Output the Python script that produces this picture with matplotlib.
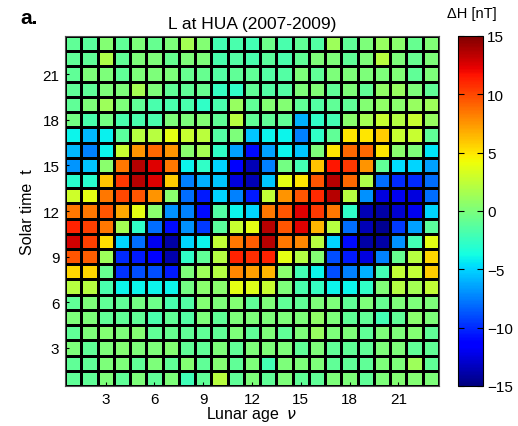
#!/usr/bin/env python
"""Lunar (L) variation of dH at HUA, solar time vs lunar age."""

import numpy as np
import matplotlib
matplotlib.use('Agg')
import matplotlib.pyplot as plt

matplotlib.rc('font', family=['Liberation Sans', 'DejaVu Sans'])

# lunar age (columns) and solar time (rows), 1..23
lunar_age = list(range(1, 24))
solar_time = list(range(1, 24))

# dH [nT], rows listed from t=23 (top) down to t=1 (bottom)
dH_rows = [
  [-1, -1.2, 0.3, -1, 0, -0.8, 0, 1.5, 0.3, -2, -1.8, -2, -0.5, -1.8, -1, -1.5, 1.2, -1, 0, 1, 0.5, -0.8, 0.2],
  [-1, -1, 1.8, -1, 0, 0, -0.8, 0, 0, -1.8, -1.5, -1.8, -1.2, -1.8, -1, 0, 0, -1, 0, 2.2, 0, -0.8, 0],
  [-1, 0, 0, -1, 0, 0, 0, -0.8, -0.8, -1.5, -1, -1, -1.5, -1.5, 0, -1, 0, 0, 0, 0, 0.2, -1, 0],
  [-1, -1, 0, 0, 1.5, 0, -1, -1, -0.8, -2.5, -2.8, -1, -1.5, -1.5, 0, 0.2, -1, 0, -1, 0.8, 1, 0, -1],
  [-1, 0, 1.2, 0, -1, -1.8, -1.8, -1.8, -2.8, -1.8, 1, -1, 0.3, 0.3, -1, -1.5, -1, -1, 0.3, 0.8, 0.5, 1, 1.2],
  [-0.3, -1.8, -0.3, -1.8, -1.8, -1.8, 0, 0, 0.3, -1, 2.2, -1, -1, -1, -6, -2.8, -2, 0.5, 1.5, 2.8, 2, 2.8, 1],
  [-4, -5.8, -4.2, -1.2, 2.2, 2.2, 3.8, 2.8, 2.3, -1.5, 0, -5.5, -4, -4, -7.5, -2.8, -1, 5, 5, 5.8, 2.8, 2.8, -1],
  [-5.8, -7.5, -4, 2.8, 7.5, 9, 7.5, 0.5, 1.5, -2.8, -6.5, -11, -6.5, -4, -5.5, 0, 5, 9, 9, 5, 0.5, 0, -4.5],
  [-6.8, -5.5, 0.5, 8.5, 13.5, 12.5, 8.5, -4, -2.8, -5, -11.5, -13.5, -7.5, -0.3, -2, 6, 11.5, 10.5, 7.5, -1, -4.8, -5, -6.5],
  [-3, -3, 6, 10.5, 13.5, 12.5, 5.8, -7.5, -6, -5.5, -12.5, -13.5, -5.5, 3.8, 5, 9.5, 13.5, 9, 1.8, -8, -10, -10, -8],
  [3, 3.8, 8.5, 10, 9.5, 7.5, 0.5, -8, -10.5, -5, -7.5, -10.5, 2.5, 7.5, 9.5, 11, 13.5, 2.2, -7, -12.5, -12, -12.5, -8],
  [8.5, 8.5, 9.5, 7, 3.8, 0.5, -7, -7.5, -11, -1.5, -4, -5, 8.5, 9.5, 12.5, 10.5, 8.5, -2.8, -13.5, -14, -13, -12, -5],
  [11.2, 10.3, 8.5, 1.5, -2.8, -8, -11, -7, -9.5, -1.2, 2.8, 3.8, 13.5, 9.5, 12.5, 6.5, 2.2, -8, -13.5, -14.5, -9.5, -6.5, -1.2],
  [12.8, 10.3, 5.2, -5, -8, -12, -14, -5, -4, 2.5, 8.5, 9.3, 13.5, 8.5, 8, 2.2, -5, -11, -14, -14, -7, -2, 3.8],
  [9.5, 9.3, 1.2, -10, -10.5, -11.5, -13.8, -2.8, -1, 2, 11.2, 10.8, 11.2, 3.8, 2, 0.3, -9, -10.5, -12.5, -7.5, -0.8, 2.2, 5.5],
  [5.5, 5.5, -0.8, -9.8, -9, -9, -10.5, 0, 1.2, 2, 8, 7.2, 6.5, 0.5, -2, -4, -9, -7.5, -6, -2, 2.5, 2.5, 5.8],
  [2.2, 2.2, -1.8, -4, -4, -4, -4, -0.3, 0.5, 0.5, 3.8, 3.6, 2.8, 0, -1.8, -2.5, -4, -4, -2.8, 0.2, 2, 1.5, 2.5],
  [-1, 0, -1, -1, -0.3, -0.5, -1.8, -1.5, 0.3, 0, 0.3, -1, 0, -1, -1, 0, 0, -1, 0, -0.8, 0, 0, 0],
  [0, 0, -1, -1, -1, -1.8, -1, -1.5, 0, -1, 0, 0, 0, 0, 0, 0.8, 0, -1, -1, -2, -1, 0.5, 0],
  [-1, 0, 0.3, 0, 0.3, -1, -0.8, -1, -1, -1, 0, -1, 0, -1, 0, 1, 0, 0, -1, 0, 0, 0.3, -1],
  [0, -1, 0, 0.3, 0, 0, 0.3, -1, -1, 0, -1, 0, 0, 0, -1, 0, -1, -1, -1, 0, 0, -1, -1],
  [-1, -1, 0, 0, -1, 0, -1, 0.3, -1, 0.3, -1, 0, -2, 0, 0, 0, -1, -1, -1, 0, 0, 1.2, -1],
  [-1, -1, 0, -1, 0, -1, 0, -2.2, -1, 2.2, -1, 0, -1, 0, -1, -1, 0, 0, -1, 0, 0.3, 0.3, 0],
]

ticks = [3, 6, 9, 12, 15, 18, 21]
cbar_ticks = [-15, -10, -5, 0, 5, 10, 15]


def main():
  dH = np.array(dH_rows[::-1])
  x = np.array(lunar_age)
  y = np.array(solar_time)
  x_edges = np.append(x - 0.5, x[-1] + 0.5)
  y_edges = np.append(y - 0.5, y[-1] + 0.5)

  fig = plt.figure(figsize=(5.18, 4.27), dpi=100)
  ax = fig.add_axes([65 / 518., 1 - 387 / 427., 374 / 518., 350 / 427.])
  mesh = ax.pcolormesh(x_edges, y_edges, dH, cmap='jet', vmin=-15, vmax=15,
                       edgecolors='k', linewidth=1.0)

  ax.set_xticks(ticks)
  ax.set_yticks(ticks)
  ax.set_xlim(x_edges[0], x_edges[-1])
  ax.set_ylim(y_edges[0], y_edges[-1])
  ax.tick_params(direction='in', length=3, labelsize=11, pad=4)
  ax.set_xlabel('Lunar age  $\\nu$', fontsize=11.5, labelpad=-1)
  ax.set_ylabel('Solar time  t', fontsize=11.5, labelpad=5)
  ax.set_title('L at HUA (2007-2009)', fontsize=12.5, pad=6)
  for s in ax.spines.values():
    s.set_color('0.3')

  cax = fig.add_axes([458 / 518., 1 - 387 / 427., 25 / 518., 350 / 427.])
  cb = fig.colorbar(mesh, cax=cax, ticks=cbar_ticks)
  cb.outline.set_linewidth(0.8)
  cax.tick_params(direction='in', length=4, left=True, right=True,
                  labelsize=11, pad=3)
  fig.text(472 / 518., 1 - 14 / 427., '\u0394H [nT]', fontsize=10.5,
           ha='center', va='center')
  fig.text(20 / 518., 1 - 18 / 427., 'a.', fontsize=15, fontweight='bold',
           ha='left', va='center')

  fig.savefig('out.png', dpi=100)


if __name__ == "__main__":
  main()
